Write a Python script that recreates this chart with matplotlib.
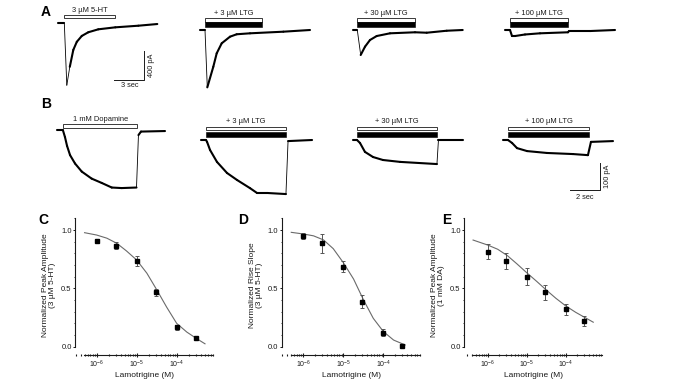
import matplotlib
matplotlib.use("Agg")
import matplotlib.pyplot as plt
from matplotlib.collections import LineCollection
from matplotlib.patches import Rectangle
from matplotlib.ticker import LogLocator, MultipleLocator, NullFormatter, FixedLocator
import numpy as np

plt.rcParams["font.family"] = ["Liberation Sans", "DejaVu Sans"]
plt.rcParams["mathtext.fontset"] = "custom"
plt.rcParams["mathtext.rm"] = "Liberation Sans"
plt.rcParams["mathtext.default"] = "regular"

W, H = 676, 387
INK = "#1a1a1a"

# ---------------- traces (time in s from drug onset, current in pA) ----------------
# row A: 3 uM 5-HT responses
a_labels = ["3 µM 5-HT", "+ 3 µM LTG", "+ 30 µM LTG", "+ 100 µM LTG"]
a_bar_dur = [5.07, 5.7, 5.8, 5.8]
a1_t = [-0.6, 0, 0.25, 0.55, 0.9, 1.25, 1.75, 2.4, 3.4, 5.1, 7.4, 9.3]
a1_i = [0, 0, -850, -600, -370, -260, -180, -130, -90, -63, -41, -18]
a2_t = [-0.5, 0, 0.23, 0.83, 1.17, 1.67, 2.5, 3.17, 4.5, 7.83, 10.5]
a2_i = [0, 0, -780, -500, -317, -181, -91, -58, -45, -23, 0]
a3_t = [-0.46, 0, 0.34, 0.77, 1.27, 1.94, 3.27, 5.77, 6.94, 8.94, 10.54]
a3_i = [0, 0, -340, -227, -136, -82, -45, -31, -37, -10, 0]
a4_t = [-0.5, 0, 0.2, 0.5, 1.5, 3.0, 5.8, 5.9, 8.0, 10.5]
a4_i = [0, 0, -82, -82, -61, -45, -31, -14, -14, 0]

# row B: 1 mM dopamine responses
b_labels = ["1 mM Dopamine", "+ 3 µM LTG", "+ 30 µM LTG", "+ 100 µM LTG"]
b_bar_dur = [4.96, 5.33, 5.33, 5.4]
b1_t = [-0.37, 0, 0.13, 0.27, 0.47, 0.8, 1.25, 1.91, 2.58, 3.25, 3.91, 4.9, 5.03, 5.2, 6.8]
b1_i = [0, 0, -24, -57, -91, -122, -152, -178, -194, -211, -213, -211, -17, -4, -2]
b2_t = [-0.33, 0, 0.07, 0.27, 0.73, 1.4, 2.07, 2.93, 3.4, 4.07, 5.33, 5.47, 7.07]
b2_i = [0, 0, -7, -37, -81, -122, -148, -178, -196, -196, -200, -4, 0]
b3_t = [-0.27, 0, 0.2, 0.53, 1.07, 1.73, 2.87, 5.33, 5.43, 7.07]
b3_i = [0, 0, -11, -44, -63, -74, -81, -89, 0, 0]
b4_t = [-0.33, 0, 0.27, 0.6, 1.27, 2.6, 4.33, 5.33, 5.53, 7.0]
b4_i = [0, 0, -11, -30, -41, -48, -52, -56, -7, -4]

# ---------------- concentration-response data ----------------
conc = [1e-6, 3e-6, 1e-5, 3e-5, 1e-4, 3e-4]
c_mean = [0.91, 0.863, 0.734, 0.466, 0.166, 0.077]
c_err = [0.015, 0.03, 0.04, 0.03, 0.02, 0.01]
d_mean = [0.951, 0.886, 0.686, 0.386, 0.12, 0.009]
d_err = [0.025, 0.08, 0.047, 0.057, 0.03, 0.01]
e_mean = [0.814, 0.734, 0.6, 0.466, 0.32, 0.22]
e_err = [0.066, 0.067, 0.071, 0.067, 0.046, 0.039]

# fitted curves
c_fit_x = [5e-7, 1e-6, 1.8e-6, 3.2e-6, 5.6e-6, 1e-5, 1.8e-5, 3.2e-5, 5.6e-5, 1e-4, 1.8e-4, 3.2e-4, 5.1e-4]
c_fit_y = [0.977, 0.957, 0.93, 0.886, 0.82, 0.743, 0.63, 0.486, 0.34, 0.2, 0.125, 0.068, 0.025]
d_fit_x = [5e-7, 1e-6, 1.8e-6, 3.2e-6, 5.6e-6, 1e-5, 1.8e-5, 3.2e-5, 5.6e-5, 1e-4, 1.8e-4, 3.5e-4]
d_fit_y = [0.98, 0.966, 0.95, 0.915, 0.84, 0.72, 0.58, 0.4, 0.243, 0.13, 0.057, 0.015]
e_fit_x = [4.2e-7, 1e-6, 1.8e-6, 3.2e-6, 5.6e-6, 1e-5, 1.8e-5, 3.2e-5, 5.6e-5, 1e-4, 1.8e-4, 3.2e-4, 5.1e-4]
e_fit_y = [0.914, 0.871, 0.835, 0.78, 0.71, 0.634, 0.56, 0.485, 0.415, 0.35, 0.295, 0.248, 0.21]

fig = plt.figure(figsize=(W / 100, H / 100), dpi=100)


def trace_ax(x0, y0, px_s, pa_px, tlim, ilim):
    """axes where (t=0, I=0) lands on image pixel (x0, y0)"""
    left = x0 + tlim[0] * px_s
    width = (tlim[1] - tlim[0]) * px_s
    top = y0 - ilim[1] / pa_px
    height = (ilim[1] - ilim[0]) / pa_px
    ax = fig.add_axes([left / W, 1 - (top + height) / H, width / W, height / H])
    ax.set_xlim(tlim)
    ax.set_ylim(ilim)
    ax.axis("off")
    return ax


def draw_trace(ax, tt, ii, px_s, pa_px):
    # fast transitions are drawn thin, like a sparsely sampled recording
    tt, ii = np.asarray(tt, float), np.asarray(ii, float)
    pts = np.column_stack([tt, ii])
    segs = np.stack([pts[:-1], pts[1:]], axis=1)
    dx = np.abs(np.diff(tt)) * px_s
    dy = np.abs(np.diff(ii)) / pa_px
    widths = np.where(dy > 6 * np.maximum(dx, 0.1), 0.6, 1.5)
    ax.add_collection(LineCollection(segs, colors="black", linewidths=widths,
                                     capstyle="round", joinstyle="round"))


def drug_bars(ax, dur, label, pa_px, open_px, solid_px):
    lo, hi = open_px
    ax.add_patch(Rectangle((0, lo * pa_px), dur, (hi - lo) * pa_px,
                           facecolor="white", edgecolor=INK, lw=0.6))
    if solid_px is not None:
        lo2, hi2 = solid_px
        ax.add_patch(Rectangle((0, lo2 * pa_px), dur, (hi2 - lo2) * pa_px,
                               facecolor="black", edgecolor="black", lw=0.4))
    ax.text(dur / 2, (hi + 1.2) * pa_px, label, ha="center", va="bottom",
            fontsize=5.4, color=INK)


# --- row A ---
A_PXS, A_PAPX = 10, 13.6
a_tr = [(a1_t, a1_i), (a2_t, a2_i), (a3_t, a3_i), (a4_t, a4_i)]
a_anchor = [(64.3, 22.7), (205, 30), (357.3, 30), (510, 30)]
a_axes = []
for k, ((tt, ii), (x0, y0)) in enumerate(zip(a_tr, a_anchor)):
    ax = trace_ax(x0, y0, A_PXS, A_PAPX, (-0.8, 10.8), (-950, 300))
    draw_trace(ax, tt, ii, A_PXS, A_PAPX)
    if k == 0:
        drug_bars(ax, a_bar_dur[k], a_labels[k], A_PAPX, (5.2, 7.8), None)
    else:
        drug_bars(ax, a_bar_dur[k], a_labels[k], A_PAPX, (8.3, 12.0), (3.0, 8.0))
    a_axes.append(ax)

# scale bar A: 3 sec / 400 pA
ax = a_axes[0]
ax.plot([5.0, 8.0, 8.0], [-780, -780, -380], color=INK, lw=0.7)
ax.text(6.5, -860, "3 sec", ha="center", va="center", fontsize=5.3, color=INK)
ax.text(8.75, -580, "400 pA", ha="center", va="center", rotation=90, fontsize=5.3, color=INK)

# --- row B ---
B_PXS, B_PAPX = 15, 3.7
b_tr = [(b1_t, b1_i), (b2_t, b2_i), (b3_t, b3_i), (b4_t, b4_i)]
b_anchor = [(63, 130.5), (206, 140), (357, 140), (508, 140)]
b_axes = []
for k, ((tt, ii), (x0, y0)) in enumerate(zip(b_tr, b_anchor)):
    ax = trace_ax(x0, y0, B_PXS, B_PAPX, (-0.6, 7.6), (-240, 90))
    draw_trace(ax, tt, ii, B_PXS, B_PAPX)
    if k == 0:
        drug_bars(ax, b_bar_dur[k], b_labels[k], B_PAPX, (2.2, 6.2), None)
    else:
        drug_bars(ax, b_bar_dur[k], b_labels[k], B_PAPX, (10.0, 13.3), (3.0, 8.0))
    b_axes.append(ax)

# scale bar B: 2 sec / 100 pA
ax = b_axes[3]
ax.plot([4.13, 6.13, 6.13], [-185, -185, -85], color=INK, lw=0.7)
ax.text(5.13, -212, "2 sec", ha="center", va="center", fontsize=5.3, color=INK)
ax.text(6.65, -135, "100 pA", ha="center", va="center", rotation=90, fontsize=5.3, color=INK)


# ---------------- C, D, E dose-response ----------------
def dose_ax(left_px, right_px, lx, spine_x, mean, err, fx, fy, ylabel):
    top_px, bot_px = 216, 355
    ax = fig.add_axes([left_px / W, 1 - bot_px / H, (right_px - left_px) / W, (bot_px - top_px) / H])
    ax.set_xscale("log")
    ax.set_xlim(10 ** lx[0], 10 ** lx[1])
    ax.set_ylim(-0.071, 1.12)
    ax.plot(fx, fy, color="#6a6a6a", lw=0.8, zorder=2)
    ax.errorbar(conc, mean, yerr=err, fmt="s", color="black", ms=3.0,
                ecolor="#555555", elinewidth=0.7, capsize=1.6, capthick=0.7, zorder=3)
    for s in ("top", "right"):
        ax.spines[s].set_visible(False)
    ax.spines["left"].set_bounds(0, 1.1)
    ax.spines["bottom"].set_bounds(10 ** spine_x[0], 10 ** spine_x[1])
    for s in ("left", "bottom"):
        ax.spines[s].set_linewidth(0.8)
        ax.spines[s].set_color(INK)
    ax.set_yticks([0, 0.5, 1.0])
    ax.set_yticklabels(["0.0", "0.5", "1.0"])
    ax.yaxis.set_minor_locator(MultipleLocator(0.1))
    ax.xaxis.set_major_locator(FixedLocator([1e-6, 1e-5, 1e-4]))
    ax.set_xticklabels(["10$^{-6}$", "10$^{-5}$", "10$^{-4}$"])
    ax.xaxis.set_minor_locator(LogLocator(base=10, subs=np.arange(2, 10), numticks=20))
    ax.xaxis.set_minor_formatter(NullFormatter())
    ax.tick_params(axis="y", which="major", length=1.8, width=0.7, labelsize=5.5,
                   pad=0.6, colors=INK)
    ax.tick_params(axis="y", which="minor", length=1.0, width=0.6, colors=INK)
    ax.tick_params(axis="x", which="major", direction="inout", length=3, width=0.8,
                   labelsize=5, pad=1.2, colors=INK)
    ax.tick_params(axis="x", which="minor", direction="inout", length=2, width=0.8, colors=INK)
    ax.set_xlabel("Lamotrigine (M)", fontsize=6, labelpad=1.5, color=INK)
    ax.set_ylabel(ylabel, fontsize=6, labelpad=3.5, linespacing=1.1, color=INK)
    return ax


dose_ax(75, 214.7, (-6.54, -3.05), (-6.32, -3.09), c_mean, c_err, c_fit_x, c_fit_y,
        "Normalized Peak Amplitude\n(3 µM 5-HT)")
dose_ax(281.7, 421.4, (-6.54, -3.05), (-6.32, -3.09), d_mean, d_err, d_fit_x, d_fit_y,
        "Normalized Rise Slope\n(3 µM 5-HT)")
dose_ax(464, 602.7, (-6.61, -3.05), (-6.40, -3.07), e_mean, e_err, e_fit_x, e_fit_y,
        "Normalized Peak Amplitude\n(1 mM DA)")

# panel letters
for letter, (x, y) in zip("ABCDE", [(46, 12), (46, 104), (43, 220), (243, 220), (447, 220)]):
    fig.text(x / W, 1 - y / H, letter, fontsize=10, fontweight="bold",
             ha="center", va="center", color="black")

fig.savefig("out.png", dpi=100)
